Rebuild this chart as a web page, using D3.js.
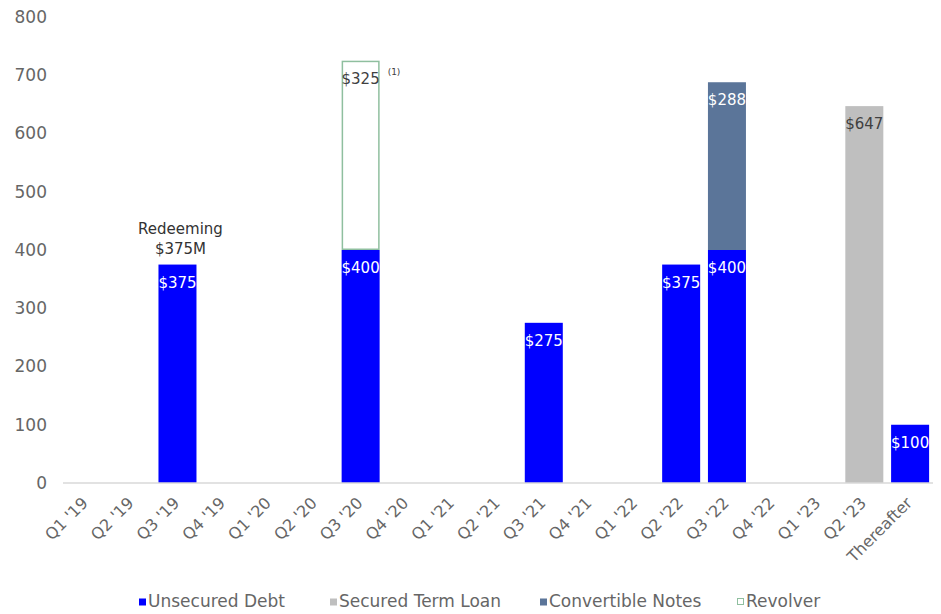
<!DOCTYPE html>
<html lang="en">
<head>
<meta charset="utf-8">
<script src="https://cdn.jsdelivr.net/npm/d3@7"></script>
<style>
  body { margin: 0; background: #fff; }
  text { font-family: "DejaVu Sans", sans-serif; }
  .axis path, .axis line { fill: none; }
</style>
</head>
<body>
<script>
// chart data
const quarters = ["Q1 '19", "Q2 '19", "Q3 '19", "Q4 '19", "Q1 '20", "Q2 '20", "Q3 '20", "Q4 '20",
  "Q1 '21", "Q2 '21", "Q3 '21", "Q4 '21", "Q1 '22", "Q2 '22", "Q3 '22", "Q4 '22",
  "Q1 '23", "Q2 '23", "Thereafter"];
const unsecured   = [0, 0, 375, 0, 0, 0, 400, 0, 0, 0, 275, 0, 0, 375, 400, 0, 0, 0, 100];
const securedTerm = [0, 0, 0, 0, 0, 0, 0, 0, 0, 0, 0, 0, 0, 0, 0, 0, 0, 647, 0];
const convertible = [0, 0, 0, 0, 0, 0, 0, 0, 0, 0, 0, 0, 0, 0, 288, 0, 0, 0, 0];
const revolver    = [0, 0, 0, 0, 0, 0, 325, 0, 0, 0, 0, 0, 0, 0, 0, 0, 0, 0, 0];
const yTicks = [0, 100, 200, 300, 400, 500, 600, 700, 800];
const seriesNames = ["Unsecured Debt", "Secured Term Loan", "Convertible Notes", "Revolver"];

const w = 941, h = 614;
const margin = {left: 63, right: 8, top: 17, bottom: 131};

const svg = d3.select("body").append("svg")
  .attr("width", w).attr("height", h);

const x = d3.scaleBand()
  .domain(quarters)
  .range([margin.left, w - margin.right])
  .paddingInner(0.17)
  .paddingOuter(0.085);

const y = d3.scaleLinear()
  .domain([0, 800])
  .range([h - margin.bottom, margin.top]);

const series = [
  {name: seriesNames[0], values: unsecured, fill: "#0000ff", stroke: "none", label: "#ffffff"},
  {name: seriesNames[1], values: securedTerm, fill: "#bfbfbf", stroke: "none", label: "#404040"},
  {name: seriesNames[2], values: convertible, fill: "#5b7599", stroke: "none", label: "#ffffff"},
  {name: seriesNames[3], values: revolver, fill: "#ffffff", stroke: "#8fbf9f", label: "#404040"}
];

// stack the series
const rows = quarters.map((q, i) => {
  const r = {q: q};
  series.forEach(s => r[s.name] = s.values[i]);
  return r;
});
const stacked = d3.stack().keys(seriesNames)(rows);

// y axis (labels only)
const yAxis = d3.axisLeft(y).tickValues(yTicks).tickSize(0).tickPadding(16);
const gy = svg.append("g")
  .attr("class", "axis")
  .attr("transform", "translate(" + margin.left + ",0)")
  .call(yAxis);
gy.select(".domain").remove();
gy.selectAll("text")
  .attr("fill", "#666666")
  .attr("font-family", "DejaVu Sans")
  .attr("font-size", "17px");

// bars
stacked.forEach((layer, k) => {
  const s = series[k];
  const g = svg.append("g");
  const data = layer.map((d, i) => ({q: quarters[i], y0: d[0], y1: d[1], v: s.values[i]}))
    .filter(d => d.v > 0);
  const inset = s.stroke !== "none" ? 0.75 : 0;
  g.selectAll("rect")
    .data(data)
    .enter()
    .append("rect")
    .attr("x", d => x(d.q) + inset)
    .attr("y", d => y(d.y1) + inset)
    .attr("width", d => x.bandwidth() - 2 * inset)
    .attr("height", d => y(d.y0) - y(d.y1) - 2 * inset)
    .attr("fill", s.fill)
    .attr("stroke", s.stroke)
    .attr("stroke-width", 1.5);
  g.selectAll("text")
    .data(data)
    .enter()
    .append("text")
    .attr("x", d => x(d.q) + x.bandwidth() / 2)
    .attr("y", d => y(d.y1) + 23)
    .attr("text-anchor", "middle")
    .attr("fill", s.label)
    .attr("font-size", "15px")
    .text(d => "$" + d.v);
});

// footnote marker next to revolver
const revIdx = revolver.findIndex(v => v > 0);
svg.append("text")
  .attr("x", x(quarters[revIdx]) + x.bandwidth() + 8)
  .attr("y", y(unsecured[revIdx] + revolver[revIdx]) + 14)
  .attr("fill", "#404040")
  .attr("font-size", "9px")
  .text("(1)");

// annotation above Q3 '19
const annIdx = 2;
const annX = x(quarters[annIdx]) + x.bandwidth() / 2 + 3;
const ann = svg.append("text")
  .attr("y", y(unsecured[annIdx]) - 31)
  .attr("text-anchor", "middle")
  .attr("fill", "#333333")
  .attr("font-size", "15px");
ann.append("tspan").attr("x", annX).text("Redeeming");
ann.append("tspan").attr("x", annX).attr("dy", 20).text("$375M");

// x axis
const xAxis = d3.axisBottom(x).tickSize(0).tickPadding(0);
const gx = svg.append("g")
  .attr("class", "axis")
  .attr("transform", "translate(0," + y(0) + ")")
  .call(xAxis);
gx.select(".domain").attr("stroke", "#d9d9d9").attr("stroke-width", 1.5)
  .attr("d", "M" + margin.left + ",0H" + (w - margin.right));
gx.selectAll("text")
  .attr("fill", "#666666")
  .attr("font-family", "DejaVu Sans")
  .attr("font-size", "16px")
  .attr("text-anchor", "end")
  .attr("y", 0)
  .attr("dy", 0)
  .attr("transform", "translate(3,21) rotate(-45)");

// legend
const legendX = [139, 330, 540, 737];
const legend = svg.append("g");
series.forEach((s, i) => {
  legend.append("rect")
    .attr("x", legendX[i] + (s.stroke === "none" ? 0 : 0.5))
    .attr("y", 598.5)
    .attr("width", s.stroke === "none" ? 7 : 6)
    .attr("height", s.stroke === "none" ? 7 : 6)
    .attr("fill", s.fill)
    .attr("stroke", s.stroke)
    .attr("stroke-width", 1);
  legend.append("text")
    .attr("x", legendX[i] + 9)
    .attr("y", 607)
    .attr("fill", "#666666")
    .attr("font-size", "17px")
    .text(s.name);
});
</script>
</body>
</html>
